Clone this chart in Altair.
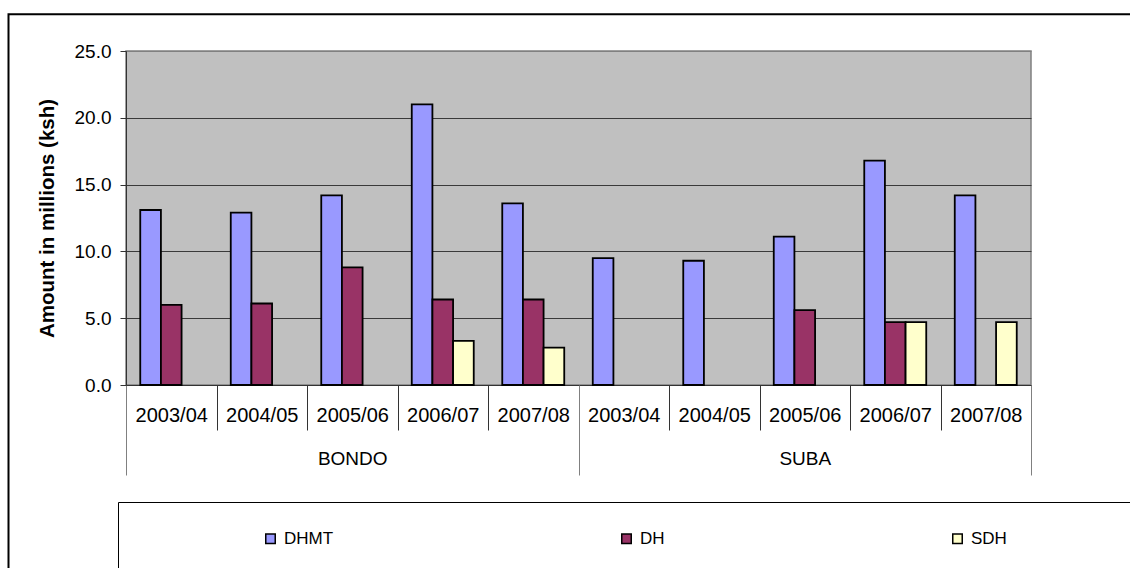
import altair as alt
import pandas as pd

# ---- data ----
years = ["2003/04", "2004/05", "2005/06", "2006/07", "2007/08"]
districts = ["BONDO", "SUBA"]
series = ["DHMT", "DH", "SDH"]
colors = ["#9999FF", "#993366", "#FFFFCC"]

bondo_dhmt = [13.1, 12.9, 14.2, 21.0, 13.6]
bondo_dh = [6.0, 6.1, 8.8, 6.4, 6.4]
bondo_sdh = [None, None, None, 3.3, 2.8]

suba_dhmt = [9.5, 9.3, 11.1, 16.8, 14.2]
suba_dh = [None, None, 5.6, 4.7, None]
suba_sdh = [None, None, None, 4.7, 4.7]

y_ticks = [0, 5, 10, 15, 20, 25]

# ---- build long table ----
tables = {
    "BONDO": {"DHMT": bondo_dhmt, "DH": bondo_dh, "SDH": bondo_sdh},
    "SUBA": {"DHMT": suba_dhmt, "DH": suba_dh, "SDH": suba_sdh},
}
rows = []
for d in districts:
    for s in series:
        for yr, v in zip(years, tables[d][s]):
            if v is not None:
                rows.append({"key": f"{d}|{yr}", "district": d, "year": yr,
                             "series": s, "value": v})
df = pd.DataFrame(rows)
keys = [f"{d}|{yr}" for d in districts for yr in years]

FONT = "Liberation Sans"
DARK = "#333333"

bars = alt.Chart(df).mark_bar(stroke="black", strokeWidth=1.8).encode(
    x=alt.X(
        "key:N", sort=keys,
        scale=alt.Scale(domain=keys, paddingInner=0, paddingOuter=0),
        axis=alt.Axis(
            orient="bottom", title=None, grid=False,
            labelExpr="split(datum.value, '|')[1]", labelAngle=0,
            tickBand="extent", tickSize=45, tickColor=DARK, tickWidth=1,
            domainColor=DARK, domainWidth=1,
            labelPadding=-15, labelBaseline="middle", labelAlign="center",
            labelFontSize=20, labelFont=FONT, labelColor="black",
        ),
    ),
    xOffset=alt.XOffset(
        "series:N", sort=series,
        scale=alt.Scale(domain=series, paddingInner=0, paddingOuter=0.69),
    ),
    y=alt.Y(
        "value:Q",
        scale=alt.Scale(domain=[0, 25], nice=False, zero=True),
        axis=alt.Axis(
            values=y_ticks, format=".1f",
            title="Amount in millions (ksh)",
            titleFont=FONT, titleFontSize=20.5, titleFontWeight="bold",
            titleColor="black", titlePadding=17,
            labelFont=FONT, labelFontSize=19, labelColor="black", labelPadding=9,
            tickSize=6, tickColor=DARK, domainColor=DARK,
            grid=True, gridWidth=1,
            gridColor=alt.condition(alt.datum.value == 25,
                                    alt.value("#808080"), alt.value("#3a3a3a")),
        ),
    ),
    color=alt.Color(
        "series:N", sort=series,
        scale=alt.Scale(domain=series, range=colors),
        legend=alt.Legend(
            orient="none", legendX=136, legendY=479, direction="horizontal",
            title=None, symbolType="square", symbolSize=90,
            symbolStrokeColor="black", symbolStrokeWidth=1.5,
            labelFont=FONT, labelFontSize=17, labelColor="black",
            labelOffset=5, columnPadding=284, padding=0,
        ),
    ),
)

region_df = pd.DataFrame({"district": districts})
regions = alt.Chart(region_df).mark_point(opacity=0).encode(
    x=alt.X(
        "district:N", sort=districts,
        scale=alt.Scale(domain=districts, paddingInner=0, paddingOuter=0),
        axis=alt.Axis(
            orient="bottom", title=None, grid=False, domain=False,
            tickBand="extent", tickSize=90, tickColor="#808080", tickWidth=1,
            labelPadding=-17, labelBaseline="middle", labelAngle=0,
            labelFont=FONT, labelFontSize=19, labelColor="black",
        ),
    ),
)

one = pd.DataFrame({"a": [0]})
frame = alt.Chart(one).mark_rect(fillOpacity=0, stroke="black", strokeWidth=2).encode(
    x=alt.value(-117.5), x2=alt.value(1200), y=alt.value(-36.7), y2=alt.value(800)
)
legend_box = alt.Chart(one).mark_rect(fillOpacity=0, stroke="black", strokeWidth=1).encode(
    x=alt.value(-7.5), x2=alt.value(1100), y=alt.value(451.5), y2=alt.value(700)
)

chart = (
    alt.layer(frame, legend_box, bars, regions)
    .resolve_scale(x="independent")
    .properties(
        width=905, height=334,
        autosize=alt.AutoSizeParams(type="none"),
        padding={"left": 126, "top": 51, "right": 99, "bottom": 183},
        background="white",
    )
    .configure_view(fill="#C0C0C0", stroke="#808080", strokeWidth=1.5)
)

chart.save("out.html", embed_options={"renderer": "svg", "actions": False})
